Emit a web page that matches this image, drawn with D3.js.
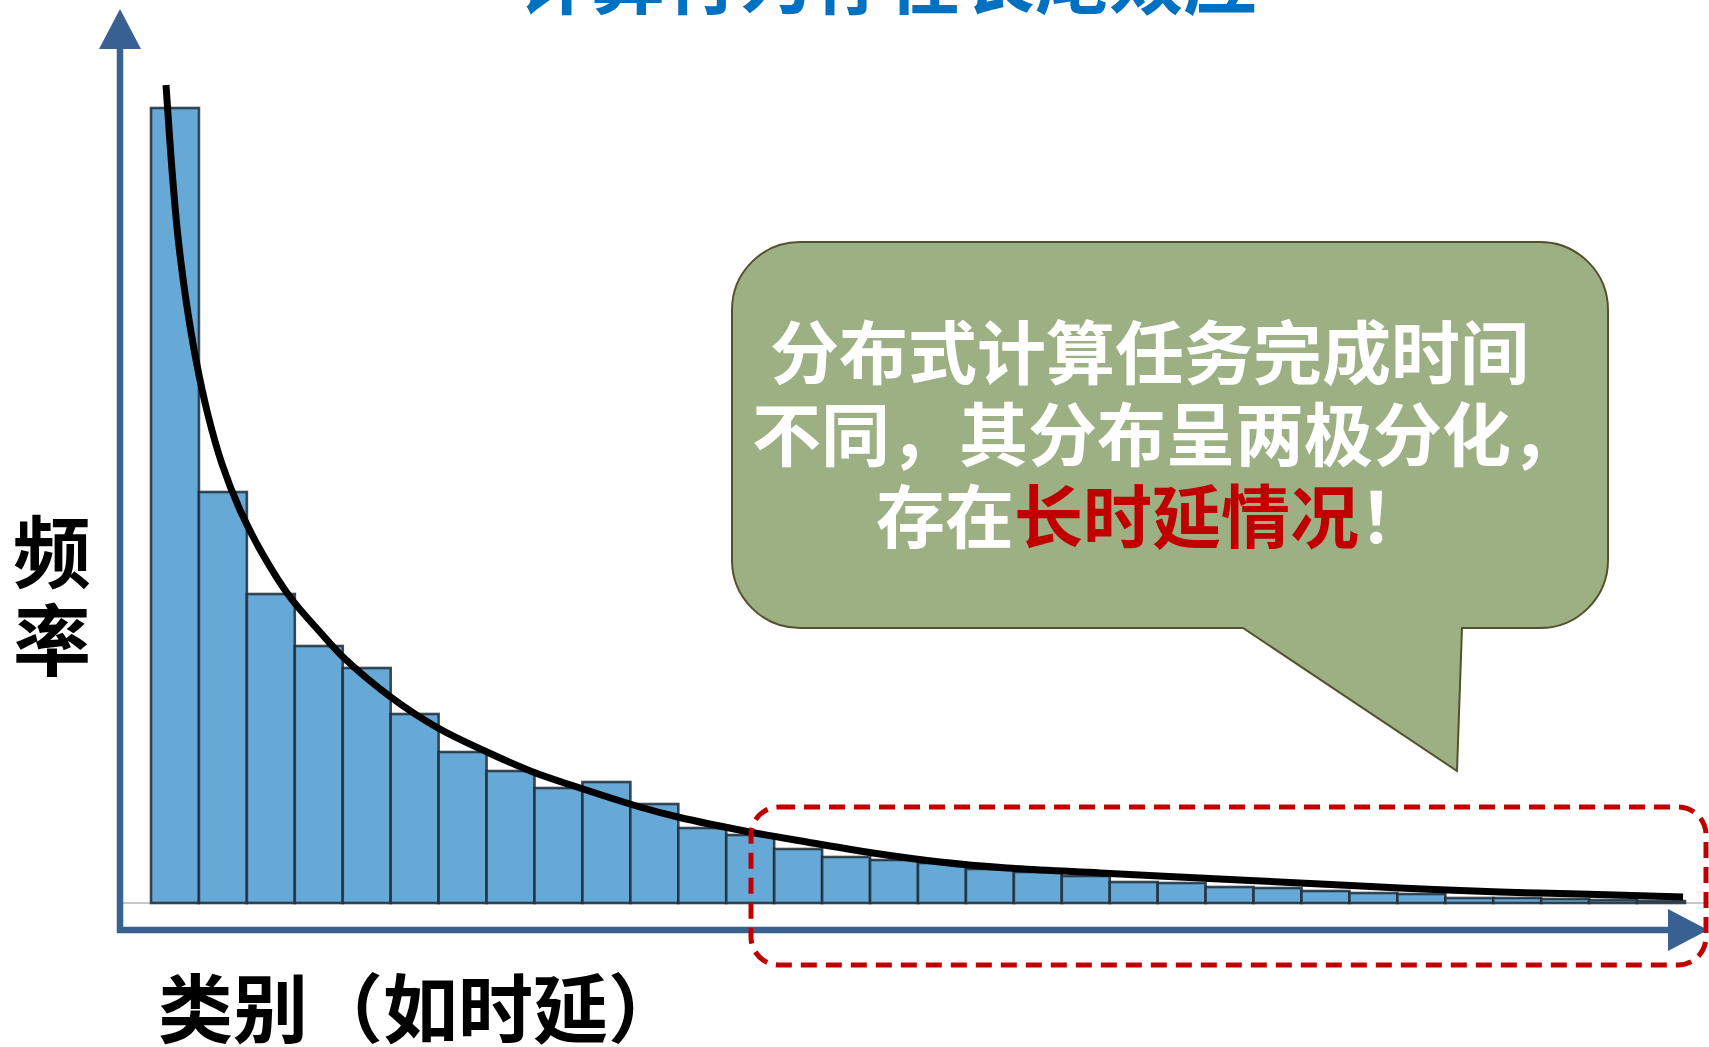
<!DOCTYPE html>
<html>
<head>
<meta charset="utf-8">
<script src="https://cdn.jsdelivr.net/npm/d3@7/dist/d3.min.js"></script>
<style>
  html, body { margin: 0; padding: 0; background: #ffffff; overflow: hidden; }
  svg { display: block; }
  text { font-family: "Noto Sans CJK SC", "Noto Sans", sans-serif; font-weight: 700; }
</style>
</head>
<body>
<script>
// ---------- data ----------
const title = "计算行为存在长尾效应";
const yLabel = ["频", "率"];
const xLabel = "类别（如时延）";
const calloutLines = [
  [{ t: "分布式计算任务完成时间", c: "#ffffff" }],
  [{ t: "不同，其分布呈两极分化，", c: "#ffffff" }],
  [{ t: "存在", c: "#ffffff" }, { t: "长时延情况", c: "#C00000" }, { t: "！", c: "#ffffff" }]
];
// histogram bins (categories) and their frequencies
const categories = d3.range(1, 33).map(String);
const frequencies = [795, 411, 309, 257, 235, 189, 151, 132, 115, 121, 99, 75, 68, 54, 46, 43,
                     40, 34, 31, 27, 21, 20, 16, 15, 12, 10, 9, 5, 5, 4, 3, 2];
// fitted long-tail curve (position in bin units, frequency)
const curveX = [0.313, 0.438, 0.563, 0.730, 0.939, 1.189, 1.481, 1.857, 2.315, 2.899, 3.525,
                4.005, 5.027, 5.987, 7.009, 7.968, 8.949, 10.20, 10.99, 12.49, 13.68, 15.06,
                16.46, 17.86, 19.80, 21.88, 23.97, 26.05, 28.14, 29.81, 31.96];
const curveY = [818, 733, 666, 603, 543, 488, 439, 393, 350, 306, 271,
                246, 205, 175, 151, 131, 115, 96, 86, 71, 61, 50,
                41, 35, 30, 25, 20, 15, 11, 9, 6];

// ---------- layout ----------
const W = 1709, H = 1047;
const svg = d3.select("body").append("svg").attr("width", W).attr("height", H);

const x = d3.scaleBand().domain(categories).range([151, 1685]).padding(0);
const xc = d3.scaleLinear().domain([0, categories.length]).range([151, 1685]);
const y = d3.scaleLinear().domain([0, 795]).range([903, 108]);

// title (mostly cut off at top)
svg.append("text")
  .attr("x", 517).attr("y", 8)
  .attr("font-size", 74).attr("fill", "#0070C0")
  .text(title);

// gray baseline
svg.append("line")
  .attr("x1", 122).attr("x2", W).attr("y1", y(0)).attr("y2", y(0))
  .attr("stroke", "#b4b4b4").attr("stroke-width", 1.5);

// bars
svg.append("g").selectAll("rect").data(frequencies).join("rect")
  .attr("x", (d, i) => x(categories[i]))
  .attr("y", d => y(d))
  .attr("width", x.bandwidth())
  .attr("height", d => y(0) - y(d))
  .attr("fill", "#66A9D7")
  .attr("stroke", "#1f2b36")
  .attr("stroke-opacity", 0.85)
  .attr("stroke-width", 2.6);

// curve
const pts = curveX.map((v, i) => [xc(v), y(curveY[i])]);
svg.append("path")
  .attr("d", d3.line().curve(d3.curveCatmullRom.alpha(0.5))(pts))
  .attr("fill", "none").attr("stroke", "#000000").attr("stroke-width", 7)
  .attr("stroke-linecap", "butt");

// callout bubble
const bx0 = 732, by0 = 242, bx1 = 1608, by1 = 628, r = 68;
const bubble = d3.path();
bubble.moveTo(bx0 + r, by0);
bubble.lineTo(bx1 - r, by0);
bubble.arcTo(bx1, by0, bx1, by0 + r, r);
bubble.lineTo(bx1, by1 - r);
bubble.arcTo(bx1, by1, bx1 - r, by1, r);
bubble.lineTo(1462, by1);
bubble.lineTo(1457, 771);
bubble.lineTo(1243, by1);
bubble.lineTo(bx0 + r, by1);
bubble.arcTo(bx0, by1, bx0, by1 - r, r);
bubble.lineTo(bx0, by0 + r);
bubble.arcTo(bx0, by0, bx0 + r, by0, r);
bubble.closePath();
svg.append("path").attr("d", bubble.toString())
  .attr("fill", "#9CB084").attr("stroke", "#56502e").attr("stroke-width", 2);

const lineX = [770, 752, 876];
const lineY = [379, 461, 543];
const callText = svg.append("text").attr("font-size", 69);
calloutLines.forEach((segs, i) => {
  segs.forEach((s, j) => {
    const ts = callText.append("tspan").attr("fill", s.c).text(s.t);
    if (j === 0) ts.attr("x", lineX[i]).attr("y", lineY[i]);
  });
});

// axes
const axisColor = "#386192";
svg.append("line").attr("x1", 120).attr("x2", 120).attr("y1", 933).attr("y2", 45)
  .attr("stroke", axisColor).attr("stroke-width", 6.5);
svg.append("path").attr("d", "M120,9 L99,49 L141,49 Z").attr("fill", axisColor);
svg.append("line").attr("x1", 117).attr("x2", 1672).attr("y1", 930).attr("y2", 930)
  .attr("stroke", axisColor).attr("stroke-width", 6.5);
svg.append("path").attr("d", "M1708,930 L1668,909 L1668,951 Z").attr("fill", axisColor);

// red dashed highlight of the long tail
svg.append("rect")
  .attr("x", 751).attr("y", 807).attr("width", 955).attr("height", 158)
  .attr("rx", 28).attr("ry", 28)
  .attr("fill", "none").attr("stroke", "#C00000").attr("stroke-width", 5)
  .attr("stroke-dasharray", "16 9");

// axis labels
const yl = svg.append("text").attr("text-anchor", "middle").attr("font-size", 78).attr("fill", "#000");
yLabel.forEach((c, i) => yl.append("tspan").attr("x", 52).attr("y", 582 + i * 88).text(c));
svg.append("text").attr("x", 158).attr("y", 1037)
  .attr("font-size", 75).attr("fill", "#000").text(xLabel);
</script>
</body>
</html>
